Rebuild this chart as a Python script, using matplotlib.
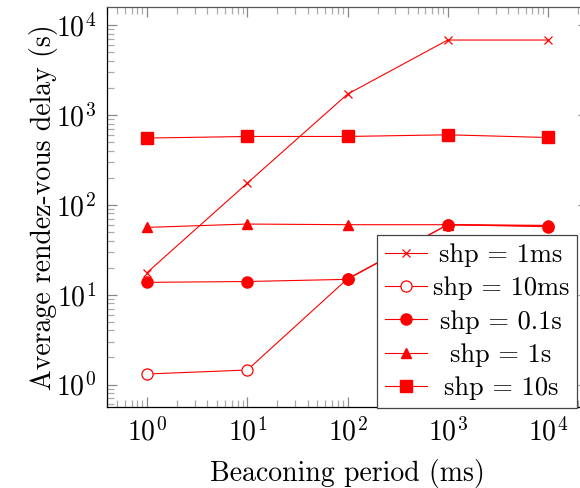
import matplotlib
matplotlib.use("Agg")
import matplotlib.pyplot as plt
from matplotlib.ticker import LogLocator

plt.rcParams['font.family'] = 'cmr10'
plt.rcParams['mathtext.fontset'] = 'cm'
plt.rcParams['axes.unicode_minus'] = False
plt.rcParams['axes.formatter.use_mathtext'] = True

period = [1, 10, 100, 1000, 10000]
shp_1ms = [17.6, 174, 1700, 6800, 6800]
shp_10ms = [1.31, 1.45, 15, 60, 58]
shp_01s = [13.7, 14.0, 14.8, 60, 57]
shp_1s = [56, 61, 60, 60, 59]
shp_10s = [552, 575, 575, 600, 560]

labels = ["shp = 1ms", "shp = 10ms", "shp = 0.1s", "shp = 1s", "shp = 10s"]

fig = plt.figure(figsize=(5.8, 4.88), dpi=100)
ax = fig.add_axes([107 / 580, 81 / 488, 481 / 580, 400 / 488])

red = '#ff0000'
ax.plot(period, shp_1ms, color=red, lw=0.8, marker='x', ms=6, mew=0.9, label=labels[0])
ax.plot(period, shp_10ms, color=red, lw=0.8, marker='o', ms=8, mfc='white', mew=0.9, label=labels[1])
ax.plot(period, shp_01s, color=red, lw=0.8, marker='o', ms=8, label=labels[2])
ax.plot(period, shp_1s, color=red, lw=0.8, marker='^', ms=7, label=labels[3])
ax.plot(period, shp_10s, color=red, lw=0.8, marker='s', ms=8, label=labels[4])

ax.set_xscale('log')
ax.set_yscale('log')
ax.set_xlim(10 ** -0.4, 10 ** 4.4)
ax.set_ylim(10 ** -0.25, 10 ** 4.2)
ax.xaxis.set_major_locator(LogLocator(base=10, numticks=10))
ax.yaxis.set_major_locator(LogLocator(base=10, numticks=10))
ax.xaxis.set_minor_locator(LogLocator(base=10, subs=range(2, 10), numticks=20))
ax.yaxis.set_minor_locator(LogLocator(base=10, subs=range(2, 10), numticks=20))

ax.tick_params(which='both', direction='in', top=True, right=True, labelsize=20, pad=8)
ax.tick_params(which='major', length=7, width=0.9, color='#888888')
ax.tick_params(which='minor', length=5, width=0.9, color='#aaaaaa')
for s in ax.spines.values():
    s.set_linewidth(0.9)
ax.spines['top'].set_color('#555555')

ax.set_xlabel("Beaconing period (ms)", fontsize=20, labelpad=9)
ax.set_ylabel("Average rendez-vous delay (s)", fontsize=20, labelpad=-2)

leg = ax.legend(loc='lower right', bbox_to_anchor=(577 / 580, 80 / 488),
                bbox_transform=fig.transFigure, borderaxespad=0,
                fontsize=19, fancybox=False, framealpha=1, edgecolor='#444444',
                handlelength=1.6, handletextpad=0.2, labelspacing=0.36,
                borderpad=0.3)
leg.get_frame().set_linewidth(0.9)

# center the legend labels like the original
fig.canvas.draw()
r = fig.canvas.get_renderer()
widths = [t.get_window_extent(r).width for t in leg.texts]
wmax = max(widths)
for t, w in zip(leg.texts, widths):
    t.set_position(((wmax - w) / 2, 0))

fig.savefig("out.png", dpi=100)
